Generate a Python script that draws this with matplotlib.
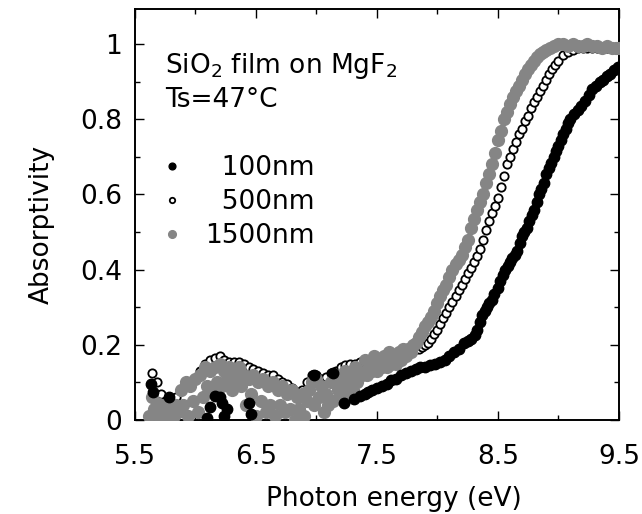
import matplotlib.pyplot as plt
from matplotlib.ticker import MultipleLocator

# absorptivity spectra of SiO2 films of three thicknesses
e_100 = [5.63, 5.65, 5.78, 6.10, 6.12, 6.16, 6.20, 6.22, 6.24, 6.26, 6.44, 6.46,
         6.98, 7.14, 7.23, 7.31, 7.36, 7.40, 7.43, 7.46, 7.50, 7.54, 7.58, 7.62,
         7.66, 7.70, 7.74, 7.78, 7.82, 7.86, 7.90, 7.94, 7.98, 8.02, 8.06, 8.10,
         8.14, 8.18, 8.22, 8.25, 8.28, 8.31, 8.33, 8.35, 8.37, 8.39, 8.41, 8.43,
         8.45, 8.47, 8.50, 8.52, 8.54, 8.56, 8.58, 8.60, 8.62, 8.64, 8.66, 8.68,
         8.70, 8.72, 8.74, 8.76, 8.78, 8.80, 8.82, 8.84, 8.86, 8.88, 8.90, 8.92,
         8.94, 8.96, 8.98, 9.00, 9.02, 9.04, 9.06, 9.08, 9.10, 9.13, 9.16, 9.19,
         9.22, 9.25, 9.28, 9.31, 9.34, 9.37, 9.40, 9.43, 9.46, 9.49]
a_100 = [0.095, 0.075, 0.06, 0.005, 0.035, 0.065, 0.06, 0.045, 0.01, 0.03, 0.045, 0.015,
         0.12, 0.125, 0.045, 0.055, 0.065, 0.07, 0.075, 0.08, 0.085, 0.09, 0.095, 0.105,
         0.11, 0.12, 0.125, 0.13, 0.135, 0.14, 0.14, 0.145, 0.15, 0.155, 0.16, 0.17,
         0.18, 0.19, 0.205, 0.21, 0.215, 0.225, 0.24, 0.26, 0.28, 0.29, 0.30, 0.31,
         0.32, 0.335, 0.35, 0.37, 0.385, 0.40, 0.41, 0.42, 0.43, 0.44, 0.45, 0.47,
         0.49, 0.50, 0.51, 0.53, 0.545, 0.56, 0.58, 0.60, 0.615, 0.63, 0.655, 0.67,
         0.685, 0.70, 0.715, 0.73, 0.745, 0.76, 0.775, 0.79, 0.80, 0.815, 0.825, 0.835,
         0.85, 0.865, 0.88, 0.89, 0.90, 0.905, 0.915, 0.92, 0.93, 0.94]

e_500 = [5.64, 5.68, 5.72, 5.76, 5.80, 5.84, 5.88, 5.92, 5.96, 6.00, 6.04, 6.08,
         6.12, 6.16, 6.20, 6.24, 6.28, 6.32, 6.36, 6.40, 6.44, 6.48, 6.52, 6.56,
         6.60, 6.64, 6.68, 6.72, 6.76, 6.80, 6.84, 6.88, 6.92, 6.96, 7.00, 7.04,
         7.08, 7.12, 7.16, 7.20, 7.24, 7.28, 7.32, 7.36, 7.40, 7.44, 7.48, 7.52,
         7.56, 7.60, 7.64, 7.68, 7.72, 7.76, 7.80,
         7.825, 7.85, 7.875, 7.90, 7.925, 7.95, 7.975, 8.00, 8.025, 8.05, 8.075, 8.10,
         8.125, 8.15, 8.175, 8.20, 8.225, 8.25, 8.275, 8.30, 8.325, 8.35, 8.375, 8.40,
         8.425, 8.45, 8.475, 8.50, 8.525, 8.55, 8.575, 8.60, 8.625, 8.65, 8.675, 8.70,
         8.725, 8.75, 8.775, 8.80, 8.825, 8.85, 8.875, 8.90, 8.925, 8.95, 8.975, 9.00,
         9.04, 9.08, 9.12, 9.16, 9.20, 9.24, 9.28, 9.32, 9.36, 9.40, 9.44, 9.48]
a_500 = [0.125, 0.10, 0.07, 0.05, 0.05, 0.06, 0.08, 0.10, 0.10, 0.11, 0.13, 0.15,
         0.16, 0.165, 0.17, 0.16, 0.155, 0.155, 0.155, 0.15, 0.14, 0.135, 0.13, 0.125,
         0.12, 0.12, 0.11, 0.10, 0.095, 0.085, 0.075, 0.08, 0.10, 0.12, 0.12, 0.11,
         0.115, 0.125, 0.13, 0.14, 0.145, 0.15, 0.15, 0.155, 0.155, 0.16, 0.16, 0.165,
         0.165, 0.17, 0.17, 0.175, 0.18, 0.18, 0.185,
         0.19, 0.19, 0.195, 0.20, 0.205, 0.215, 0.23, 0.24, 0.255, 0.27, 0.285, 0.30,
         0.315, 0.33, 0.345, 0.36, 0.375, 0.39, 0.405, 0.42, 0.435, 0.455, 0.48, 0.505,
         0.53, 0.55, 0.57, 0.59, 0.62, 0.65, 0.68, 0.70, 0.72, 0.74, 0.76, 0.775,
         0.795, 0.81, 0.83, 0.845, 0.86, 0.875, 0.89, 0.905, 0.92, 0.935, 0.945, 0.955,
         0.97, 0.98, 0.985, 0.99, 0.99, 0.99, 0.99, 0.99, 0.99, 0.99, 0.99, 0.99]

e_1500 = [5.62, 5.64, 5.66, 5.68, 5.70, 5.72, 5.74, 5.76, 5.78, 5.80, 5.82, 5.84,
          5.86, 5.88, 5.90, 5.92, 5.94, 5.96, 5.98, 6.00, 6.02, 6.04, 6.06, 6.08,
          6.10, 6.12, 6.14, 6.16, 6.18, 6.20, 6.22, 6.24, 6.26, 6.28, 6.30, 6.32,
          6.34, 6.36, 6.38, 6.40, 6.42, 6.44, 6.46, 6.48, 6.50, 6.52, 6.54, 6.56,
          6.58, 6.60, 6.62, 6.64, 6.66, 6.68, 6.70, 6.72, 6.74, 6.76, 6.78, 6.80,
          6.82, 6.84, 6.86, 6.88, 6.90, 6.92, 6.94, 6.96, 6.98, 7.00, 7.02, 7.04,
          7.06, 7.08, 7.10, 7.12, 7.14, 7.16, 7.18, 7.20, 7.22, 7.24, 7.26, 7.28,
          7.30, 7.32, 7.34, 7.36, 7.38, 7.40, 7.42, 7.44, 7.46, 7.48, 7.50, 7.52,
          7.54, 7.56, 7.58, 7.60, 7.62, 7.64, 7.66, 7.68, 7.70, 7.72, 7.74, 7.76, 7.78,
          7.80, 7.825, 7.85, 7.875, 7.90, 7.925, 7.95, 7.975, 8.00, 8.025, 8.05, 8.075,
          8.10, 8.125, 8.15, 8.175, 8.20, 8.225, 8.25, 8.275, 8.30, 8.325, 8.35, 8.375,
          8.40, 8.425, 8.45, 8.475, 8.50, 8.525, 8.55, 8.575, 8.60, 8.625, 8.65, 8.675,
          8.70, 8.725, 8.75, 8.775, 8.80, 8.825, 8.85, 8.875, 8.90, 8.93, 8.96, 9.00,
          9.04, 9.08, 9.12, 9.16, 9.20, 9.24, 9.28, 9.32, 9.36, 9.40, 9.44, 9.48, 9.50]
a_1500 = [0.01, 0.06, 0.03, 0.045, 0.005, 0.04, 0.015, 0.03, 0.0, 0.035, 0.01, 0.04,
          0.02, 0.08, 0.04, 0.10, 0.01, 0.09, 0.05, 0.11, 0.02, 0.12, 0.06, 0.14,
          0.09, 0.13, 0.08, 0.14, 0.10, 0.15, 0.09, 0.13, 0.11, 0.14, 0.08, 0.13,
          0.10, 0.14, 0.09, 0.12, 0.04, 0.11, 0.07, 0.12, 0.01, 0.10, 0.05, 0.11,
          0.02, 0.09, 0.04, 0.10, 0.01, 0.08, 0.04, 0.09, 0.02, 0.07, 0.03, 0.08,
          0.0, 0.06, 0.03, 0.07, 0.01, 0.05, 0.08, 0.10, 0.04, 0.11, 0.06, 0.09,
          0.02, 0.07, 0.04, 0.10, 0.05, 0.12, 0.08, 0.11, 0.07, 0.13, 0.09, 0.12,
          0.08, 0.14, 0.10, 0.13, 0.12, 0.16, 0.12, 0.15, 0.13, 0.17, 0.13, 0.16,
          0.14, 0.17, 0.14, 0.18, 0.15, 0.17, 0.15, 0.18, 0.16, 0.19, 0.17, 0.19, 0.18,
          0.20, 0.205, 0.22, 0.235, 0.25, 0.26, 0.275, 0.29, 0.31, 0.33, 0.345, 0.36,
          0.38, 0.40, 0.415, 0.425, 0.44, 0.46, 0.48, 0.51, 0.535, 0.56, 0.58, 0.60,
          0.63, 0.655, 0.68, 0.71, 0.745, 0.77, 0.80, 0.82, 0.84, 0.86, 0.875, 0.89,
          0.905, 0.92, 0.935, 0.945, 0.955, 0.965, 0.975, 0.98, 0.985, 0.99, 0.995, 1.0,
          1.0, 0.995, 1.0, 0.995, 0.995, 1.0, 0.995, 0.995, 0.99, 0.995, 0.99, 0.99, 0.99]

labels = ["\u2007100nm", "\u2007500nm", "1500nm"]
xticks = [5.5, 6.5, 7.5, 8.5, 9.5]
xtick_labels = ["5.5", "6.5", "7.5", "8.5", "9.5"]
yticks = [0, 0.2, 0.4, 0.6, 0.8, 1.0]
ytick_labels = ["0", "0.2", "0.4", "0.6", "0.8", "1"]

assert len(e_100) == len(a_100)
assert len(e_500) == len(a_500)
assert len(e_1500) == len(a_1500)

plt.rcParams["font.family"] = "DejaVu Sans"
fs = 19

fig, ax = plt.subplots(figsize=(6.42, 5.14), dpi=100)
fig.subplots_adjust(left=0.21, right=0.964, bottom=0.183, top=0.982)

gray = "#858585"
h500, = ax.plot(e_500, a_500, "o", ms=6.0, mfc="white", mec="black", mew=1.3, zorder=2)
h1500, = ax.plot(e_1500, a_1500, "o", ms=8.5, color=gray, mec=gray, zorder=3)
h100, = ax.plot(e_100, a_100, "o", ms=7.5, color="black", zorder=4)

ax.set_xlim(5.5, 9.5)
ax.set_ylim(0, 1.093)
ax.set_xticks(xticks)
ax.set_xticklabels(xtick_labels)
ax.set_yticks(yticks)
ax.set_yticklabels(ytick_labels)
ax.xaxis.set_minor_locator(MultipleLocator(0.5))
ax.yaxis.set_minor_locator(MultipleLocator(0.1))
ax.tick_params(which="both", direction="in", top=True, right=True, width=1.0)
ax.tick_params(which="major", length=6.5, labelsize=fs)
ax.tick_params(which="minor", length=3.5)
ax.tick_params(axis="x", pad=17)
ax.tick_params(axis="y", pad=9)
for sp in ax.spines.values():
    sp.set_linewidth(1.4)

ax.set_xlabel("Photon energy (eV)", fontsize=fs)
ax.set_ylabel("Absorptivity", fontsize=fs)
ax.xaxis.set_label_coords(0.535, -0.16)
ax.yaxis.set_label_coords(-0.165, 0.475)

ax.text(0.062, 0.844, "SiO$_2$ film on MgF$_2$", transform=ax.transAxes,
        fontsize=fs, va="baseline")
ax.text(0.062, 0.762, "Ts=47°C", transform=ax.transAxes, fontsize=fs, va="baseline")

ax.legend([h100, h500, h1500], labels, loc="upper left", bbox_to_anchor=(0.049, 0.645),
          frameon=False, fontsize=fs, markerscale=0.65, handlelength=1.0,
          handletextpad=0.75, labelspacing=0.3, borderpad=0, borderaxespad=0)

plt.savefig("out.png")
